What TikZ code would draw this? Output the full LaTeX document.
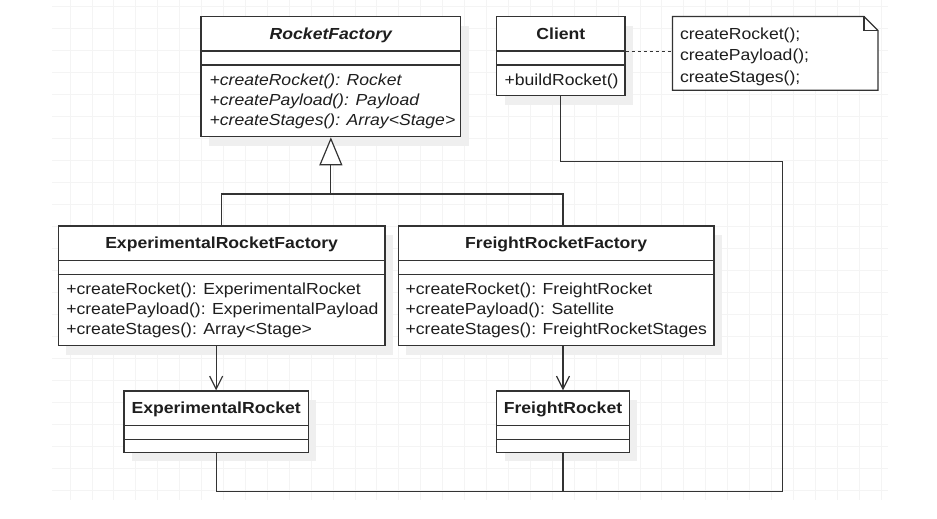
\documentclass[tikz,border=0pt]{standalone}
\usepackage{fontspec}
\setmainfont{Liberation Sans}[FakeStretch=1.1]
\usetikzlibrary{arrows.meta,calc}
\definecolor{linec}{HTML}{333333}
\definecolor{textc}{HTML}{1E1E1E}
\definecolor{gridc}{HTML}{F4F4F4}
\definecolor{shadowc}{HTML}{EFEFEF}
\tikzset{
  cls/.style={draw=linec,line width=1.2pt,fill=white,inner sep=0pt},
  sepline/.style={draw=linec,line width=1.2pt},
  conn/.style={draw=linec,line width=1.2pt},
  txt/.style={inner sep=0pt,text=textc,font=\fontsize{16}{20}\selectfont},
  ttl/.style={inner sep=0pt,text=textc,font=\fontsize{16}{20}\selectfont\bfseries},
  meth/.style={txt,anchor=base west},
  gridline/.style={draw=gridc,line width=0.8pt},
  shad/.style={fill=shadowc},
  openv/.style={-{Straight Barb[length=13pt,width=13pt,line width=1.2pt]}},
  inh/.style={-{Triangle[open,length=28pt,width=23pt,line width=1.2pt,fill=white]}}
}
\begin{document}
\begin{tikzpicture}[x=1pt,y=-1pt]
\useasboundingbox (0,0) rectangle (937,519);
% grid
\foreach \i in {0,...,37} \draw[gridline] ({70+21.92*\i},0) -- ({70+21.92*\i},500);
\foreach \j in {0,...,22} \draw[gridline] (52,{6+22*\j}) -- (888,{6+22*\j});
% class box centres
\coordinate (rfc) at (330.85,76.7);
\coordinate (clc) at (560.85,56.2);
\coordinate (efc) at (221.65,285.85);
\coordinate (ffc) at (556.15,285.85);
\coordinate (erc) at (216.15,421.65);
\coordinate (frc) at (563,421.65);
% shadows
\foreach \c/\w/\h in {rfc/259.7/120, clc/128.3/79, efc/326.7/119.7, ffc/315.7/119.7, erc/184.3/61.3, frc/132.6/61.3}
  \fill[shad] ($(\c)+(-\w/2+8,-\h/2+9)$) rectangle ($(\c)+(\w/2+8,\h/2+9)$);
\node[cls,minimum width=259.7pt,minimum height=120pt] (rf) at (rfc) {};
\node[cls,minimum width=128.3pt,minimum height=79pt] (cl) at (clc) {};
\node[cls,minimum width=326.7pt,minimum height=119.7pt] (ef) at (efc) {};
\node[cls,minimum width=315.7pt,minimum height=119.7pt] (ff) at (ffc) {};
\node[cls,minimum width=184.3pt,minimum height=61.3pt] (er) at (erc) {};
\node[cls,minimum width=132.6pt,minimum height=61.3pt] (fr) at (frc) {};
% separators
\foreach \n in {rf,cl,ef,ff,er,fr}{
  \draw[sepline] ($(\n.north west)+(0,35)$) -- ($(\n.north east)+(0,35)$);
  \draw[sepline] ($(\n.north west)+(0,49)$) -- ($(\n.north east)+(0,49)$);
}
% titles
\node[ttl,anchor=base] (rft) at ($(rf.north)+(0,23.3)$) {\itshape RocketFactory};
\node[ttl,anchor=base] (clt) at ($(cl.north)+(0,23.3)$) {Client};
\node[ttl,anchor=base] (eft) at ($(ef.north)+(0,23.3)$) {ExperimentalRocketFactory};
\node[ttl,anchor=base] (fft) at ($(ff.north)+(0,23.3)$) {FreightRocketFactory};
\node[ttl,anchor=base] (ert) at ($(er.north)+(0,23.3)$) {ExperimentalRocket};
\node[ttl,anchor=base] (frt) at ($(fr.north)+(0,23.3)$) {FreightRocket};
% methods
\node[meth] (rf1) at ($(rf.north west)+(9,69.3)$) {\itshape +createRocket(): Rocket};
\node[meth] (rf2) at ($(rf.north west)+(9,89.3)$) {\itshape +createPayload(): Payload};
\node[meth] (rf3) at ($(rf.north west)+(9,109.3)$) {\itshape +createStages(): Array<Stage>};
\node[meth] (cl1) at ($(cl.north west)+(8.3,69.3)$) {+buildRocket()};
\node[meth] (ef1) at ($(ef.north west)+(8.4,69.3)$) {+createRocket(): ExperimentalRocket};
\node[meth] (ef2) at ($(ef.north west)+(8.4,89.3)$) {+createPayload(): ExperimentalPayload};
\node[meth] (ef3) at ($(ef.north west)+(8.4,109.3)$) {+createStages(): Array<Stage>};
\node[meth] (ff1) at ($(ff.north west)+(7.7,69.3)$) {+createRocket(): FreightRocket};
\node[meth] (ff2) at ($(ff.north west)+(7.7,89.3)$) {+createPayload(): Satellite};
\node[meth] (ff3) at ($(ff.north west)+(7.7,109.3)$) {+createStages(): FreightRocketStages};
% note
\node[inner sep=0pt,minimum width=205pt,minimum height=73.3pt] (nt) at (775.2,53.35) {};
\draw[conn,fill=white] (nt.north west) -- ($(nt.north east)+(-14,0)$) -- ($(nt.north east)+(0,14)$) -- (nt.south east) -- (nt.south west) -- cycle;
\draw[conn] ($(nt.north east)+(-14,0)$) -- ($(nt.north east)+(-14,14)$) -- ($(nt.north east)+(0,14)$);
\node[meth] (nt1) at ($(nt.north west)+(7.3,23.5)$) {createRocket();};
\node[meth] (nt2) at ($(nt.north west)+(7.3,44.5)$) {createPayload();};
\node[meth] (nt3) at ($(nt.north west)+(7.3,65.5)$) {createStages();};
\coordinate (dl) at ($(cl.north east)+(0,35.6)$);
\draw[conn,dash pattern=on 3pt off 3pt] (dl) -- (dl -| nt.west);
% connectors
\coordinate (jn) at ($(rf.south)+(0,56.6)$);
\draw[conn] (ef.north) |- (jn) -| (ff.north -| fr.north);
\draw[conn,inh] (jn) -- (rf.south);
\draw[conn,openv] (ef.south -| er.north) -- (er.north);
\draw[conn,openv] (ff.south -| fr.north) -- (fr.north);
\coordinate (bl) at ($(er.south)+(0,38.4)$);
\coordinate (rt) at ($(cl.south)+(221.4,65)$);
\draw[conn] (er.south) -- (bl) -| (rt) -| (cl.south);
\draw[conn] (fr.south) -- (fr.south |- bl);
\end{tikzpicture}
\end{document}
